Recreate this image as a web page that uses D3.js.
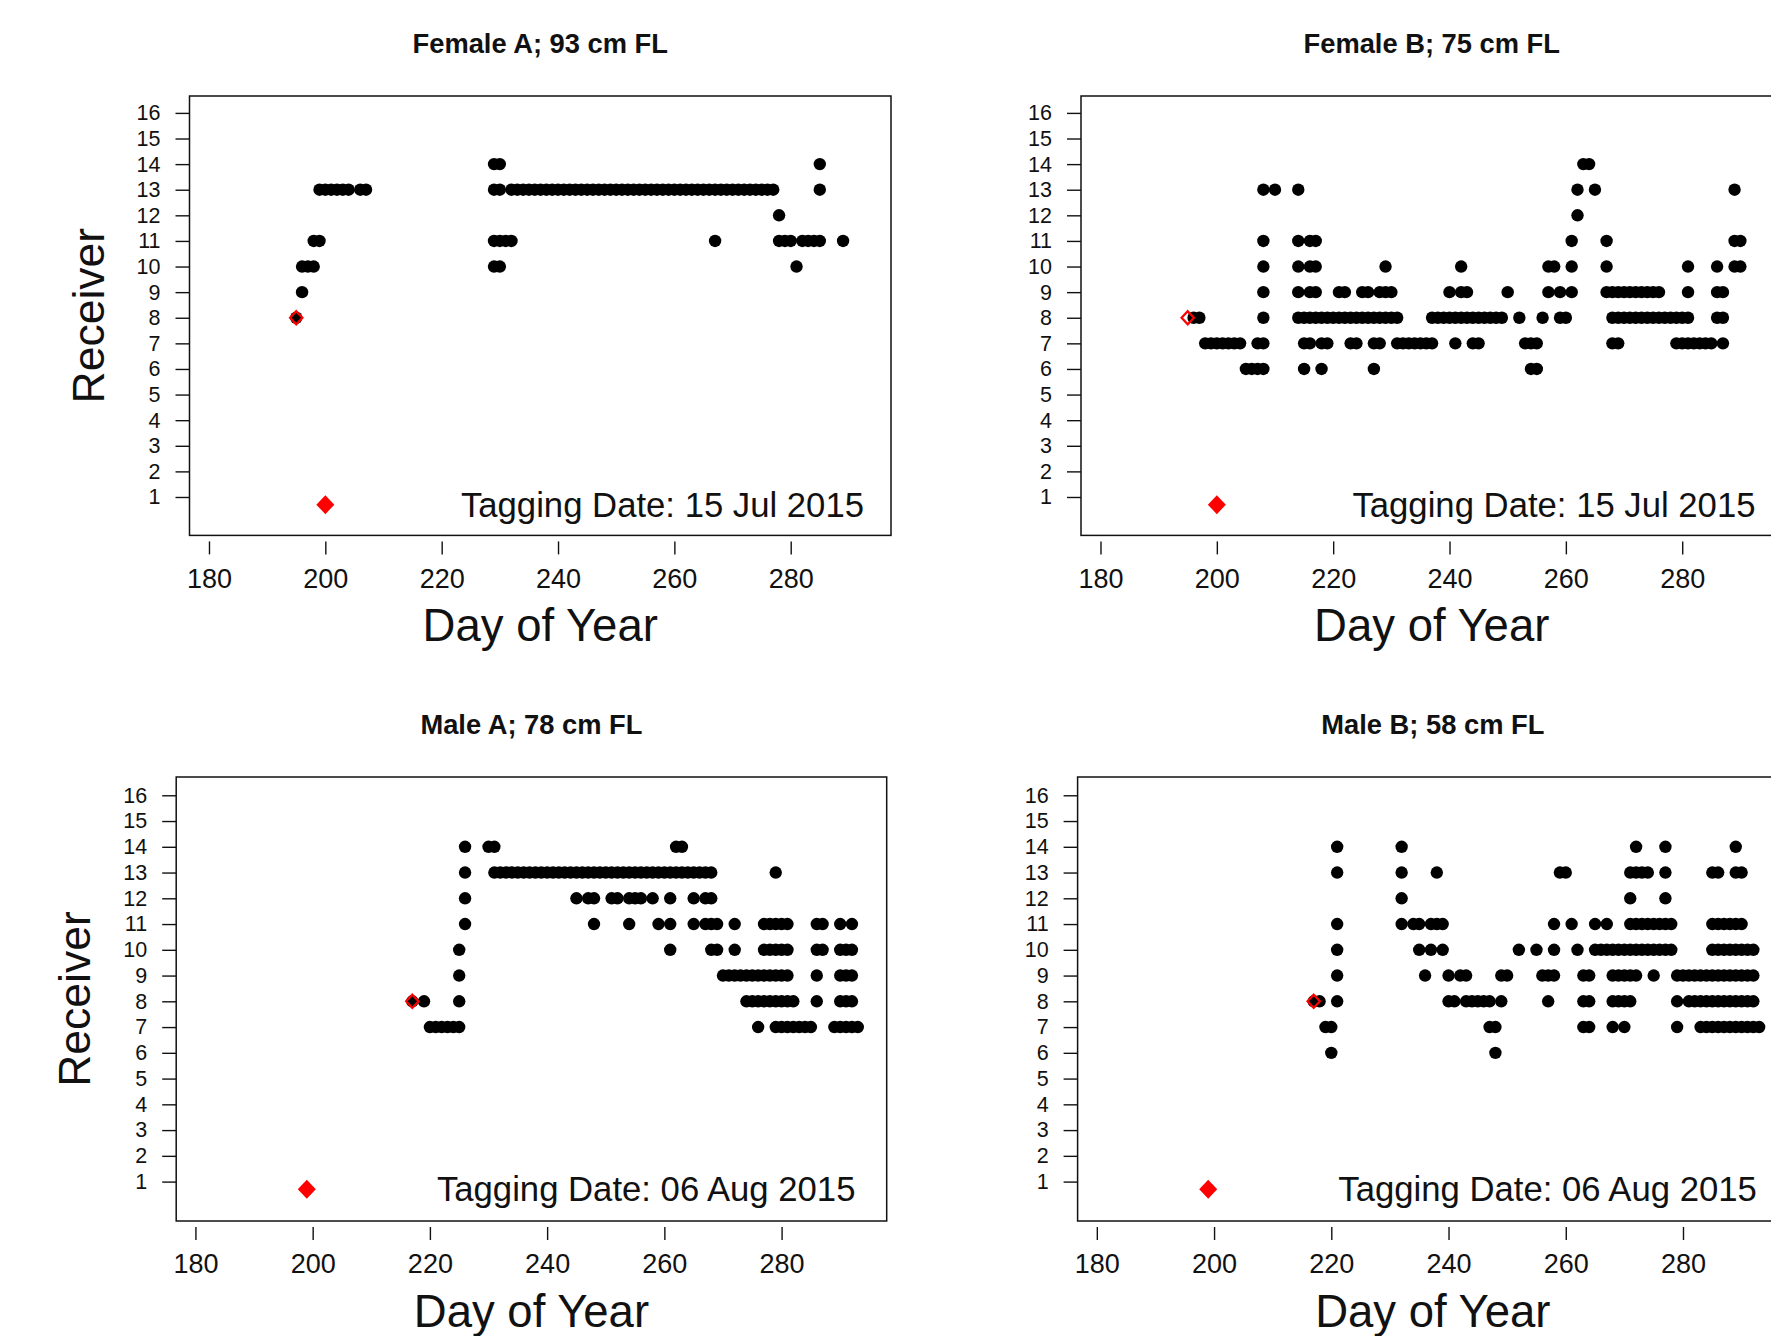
<!DOCTYPE html>
<html>
<head>
<meta charset="utf-8">
<script src="https://cdn.jsdelivr.net/npm/d3@7"></script>
<style>
  html, body { margin: 0; padding: 0; background: #fff; overflow: hidden; }
  svg { display: block; font-family: "Liberation Sans", Arial, sans-serif; }
</style>
</head>
<body>
<svg id="fig" width="1771" height="1336"></svg>
<script>
// Receiver detections by day of year. Each row: [receiver, [days detected]]
const femaleA = [
  [8,  [195]],
  [9,  [196]],
  [10, [196, 197, 198, 229, 230, 281]],
  [11, [198, 199, 229, 230, 231, 232, 267, 278, 279, 280, 282, 283, 284, 285, 289]],
  [12, [278]],
  [13, [199, 200, 201, 202, 203, 204, 206, 207, 229, 230,
        232, 233, 234, 235, 236, 237, 238, 239, 240, 241, 242, 243, 244, 245, 246, 247,
        248, 249, 250, 251, 252, 253, 254, 255, 256, 257, 258, 259, 260, 261, 262, 263,
        264, 265, 266, 267, 268, 269, 270, 271, 272, 273, 274, 275, 276, 277, 285]],
  [14, [229, 230, 285]]
];

const femaleB = [
  [6,  [205, 206, 207, 208, 215, 218, 227, 254, 255]],
  [7,  [198, 199, 200, 201, 202, 203, 204, 207, 208, 215, 216, 218, 219, 223, 224, 227, 228,
        231, 232, 233, 234, 235, 236, 237, 241, 244, 245, 253, 254, 255, 268, 269,
        279, 280, 281, 282, 283, 284, 285, 287]],
  [8,  [196, 197, 208, 214, 215, 216, 217, 218, 219, 220, 221, 222, 223, 224, 225, 226, 227,
        228, 229, 230, 231, 237, 238, 239, 240, 241, 242, 243, 244, 245, 246, 247, 248, 249,
        252, 256, 259, 260, 268, 269, 270, 271, 272, 273, 274, 275, 276, 277, 278, 279, 280,
        281, 286, 287]],
  [9,  [208, 214, 216, 217, 221, 222, 225, 226, 228, 229, 230, 240, 242, 243, 250,
        257, 259, 261, 267, 268, 269, 270, 271, 272, 273, 274, 275, 276, 281, 286, 287]],
  [10, [208, 214, 216, 217, 229, 242, 257, 258, 261, 267, 281, 286, 289, 290]],
  [11, [208, 214, 216, 217, 261, 267, 289, 290]],
  [12, [262]],
  [13, [208, 210, 214, 262, 265, 289]],
  [14, [263, 264]]
];

const maleA = [
  [7,  [220, 221, 222, 223, 224, 225, 276, 279, 280, 281, 282, 283, 284, 285,
        289, 290, 291, 292, 293]],
  [8,  [217, 219, 225, 274, 275, 276, 277, 278, 279, 280, 281, 282, 286, 290, 291, 292]],
  [9,  [225, 270, 271, 272, 273, 274, 275, 276, 277, 278, 279, 280, 281, 286, 290, 291, 292]],
  [10, [225, 261, 268, 269, 272, 277, 278, 279, 280, 281, 286, 287, 290, 291, 292]],
  [11, [226, 248, 254, 259, 261, 265, 267, 268, 269, 272, 277, 278, 279, 280, 281,
        286, 287, 290, 292]],
  [12, [226, 245, 247, 248, 251, 252, 254, 255, 256, 258, 261, 265, 267, 268]],
  [13, [226, 231, 232, 233, 234, 235, 236, 237, 238, 239, 240, 241, 242, 243, 244, 245,
        246, 247, 248, 249, 250, 251, 252, 253, 254, 255, 256, 257, 258, 259, 260, 261,
        262, 263, 264, 265, 266, 267, 268, 279]],
  [14, [226, 230, 231, 262, 263]]
];

const maleB = [
  [6,  [220, 248]],
  [7,  [219, 220, 247, 248, 263, 264, 268, 270, 279, 283, 284, 285, 286, 287, 288, 289,
        290, 291, 292, 293]],
  [8,  [217, 218, 221, 240, 241, 243, 244, 245, 246, 247, 249, 257, 263, 264, 268, 269,
        270, 271, 279, 281, 282, 283, 284, 285, 286, 287, 288, 289, 290, 291, 292]],
  [9,  [221, 236, 240, 242, 243, 249, 250, 256, 257, 258, 263, 264, 268, 269, 270, 271,
        272, 275, 279, 280, 281, 282, 283, 284, 285, 286, 287, 288, 289, 290, 291, 292]],
  [10, [221, 235, 237, 239, 252, 255, 258, 262, 265, 266, 267, 268, 269, 270, 271, 272,
        273, 274, 275, 276, 277, 278, 285, 286, 287, 288, 289, 290, 291, 292]],
  [11, [221, 232, 234, 235, 237, 238, 239, 258, 261, 265, 267, 271, 272, 273, 274, 275,
        276, 277, 278, 285, 286, 287, 288, 289, 290]],
  [12, [232, 271, 277]],
  [13, [221, 232, 238, 259, 260, 271, 272, 273, 274, 277, 285, 286, 289, 290]],
  [14, [221, 232, 272, 277, 289]]
];

const panelData = [femaleA, femaleB, maleA, maleB];
const panelTitles = ["Female A; 93 cm FL", "Female B; 75 cm FL", "Male A; 78 cm FL", "Male B; 58 cm FL"];
const taggingDates = ["15 Jul 2015", "15 Jul 2015", "06 Aug 2015", "06 Aug 2015"];
// first detection of each fish (open red diamond)
const releaseDay = [195, 195, 217, 217];
const releaseReceiver = [8, 8, 8, 8];
// filled red diamond beside the tagging-date note
const markerDay = [200, 200, 199, 199];
const markerLevel = 0.7;
const noteEndDay = 292.6;

const xTicks = [180, 200, 220, 240, 260, 280];
const yTicks = [1, 2, 3, 4, 5, 6, 7, 8, 9, 10, 11, 12, 13, 14, 15, 16];

// ---- layout of the four plot boxes (pixels) and their axis extents ----
const frames = [
  { left: 189.5,  right: 891,    top: 96,  bottom: 535.4, xd: [176.65, 297.24], yd: [-0.5, 16.66],  ylab: true },
  { left: 1081,   right: 1782.5, top: 96,  bottom: 535.4, xd: [176.65, 297.24], yd: [-0.5, 16.66],  ylab: false },
  { left: 176.2,  right: 886.7,  top: 777, bottom: 1221,  xd: [176.72, 297.93], yd: [-0.53, 16.71], ylab: true },
  { left: 1077.6, right: 1788.1, top: 777, bottom: 1221,  xd: [176.72, 297.93], yd: [-0.53, 16.71], ylab: false }
];

const ink = "#111";
const svg = d3.select("#fig");
svg.append("rect").attr("width", 1771).attr("height", 1336).attr("fill", "#fff");

const diamond = (h, v) => `M0,${-v}L${h},0L0,${v}L${-h},0Z`;

frames.forEach((f, i) => {
  const x = d3.scaleLinear().domain(f.xd).range([f.left, f.right]);
  const y = d3.scaleLinear().domain(f.yd).range([f.bottom, f.top]);
  const g = svg.append("g");
  const cx = (f.left + f.right) / 2;

  // title
  g.append("text")
    .attr("x", cx).attr("y", f.top - 53).attr("dy", "0.35em")
    .attr("text-anchor", "middle")
    .attr("font-weight", "bold").attr("font-size", 27.3)
    .attr("fill", ink)
    .text(panelTitles[i]);

  // x axis
  const xAxis = d3.axisBottom(x).tickValues(xTicks).tickSize(13).tickPadding(14).tickSizeOuter(0);
  const gx = g.append("g").attr("transform", `translate(0,${f.bottom + 6})`).call(xAxis);
  gx.select(".domain").remove();
  gx.selectAll("line").attr("stroke", ink).attr("stroke-width", 1.4);
  gx.selectAll("text").attr("font-size", 27).attr("fill", ink)
    .attr("font-family", "Liberation Sans, Arial, sans-serif");

  // y axis
  const yAxis = d3.axisLeft(y).tickValues(yTicks).tickSize(14).tickPadding(15).tickSizeOuter(0);
  const gy = g.append("g").attr("transform", `translate(${f.left},0)`).call(yAxis);
  gy.select(".domain").remove();
  gy.selectAll("line").attr("stroke", ink).attr("stroke-width", 1.4);
  gy.selectAll("text").attr("font-size", 21.5).attr("fill", ink)
    .attr("font-family", "Liberation Sans, Arial, sans-serif");

  // axis titles
  g.append("text")
    .attr("x", cx).attr("y", f.bottom + 90).attr("dy", "0.35em")
    .attr("text-anchor", "middle").attr("font-size", 45.5).attr("fill", ink)
    .text("Day of Year");
  if (f.ylab) {
    g.append("text")
      .attr("transform", `translate(${f.left - 101.5},${(f.top + f.bottom) / 2}) rotate(-90)`)
      .attr("dy", "0.35em")
      .attr("text-anchor", "middle").attr("font-size", 44.5).attr("fill", ink)
      .text("Receiver");
  }

  // detections
  const pts = panelData[i].flatMap(([r, days]) => days.map(d => ({ d, r })));
  g.append("g").selectAll("circle").data(pts).join("circle")
    .attr("cx", p => x(p.d)).attr("cy", p => y(p.r)).attr("r", 6.2)
    .attr("fill", "#000");

  // first detection
  g.append("path")
    .attr("d", diamond(6.2, 6.6))
    .attr("transform", `translate(${x(releaseDay[i])},${y(releaseReceiver[i])})`)
    .attr("fill", "none").attr("stroke", "#ff0000").attr("stroke-width", 2.2);

  // tagging-date note
  g.append("path")
    .attr("d", diamond(9, 9.5))
    .attr("transform", `translate(${x(markerDay[i])},${y(markerLevel)})`)
    .attr("fill", "#ff0000");
  g.append("text")
    .attr("x", x(noteEndDay)).attr("y", y(markerLevel)).attr("dy", "0.35em")
    .attr("text-anchor", "end").attr("font-size", 34.7).attr("fill", ink)
    .text("Tagging Date: " + taggingDates[i]);

  // plot box
  g.append("rect")
    .attr("x", f.left).attr("y", f.top)
    .attr("width", f.right - f.left).attr("height", f.bottom - f.top)
    .attr("fill", "none").attr("stroke", ink).attr("stroke-width", 1.5);
});
</script>
</body>
</html>
